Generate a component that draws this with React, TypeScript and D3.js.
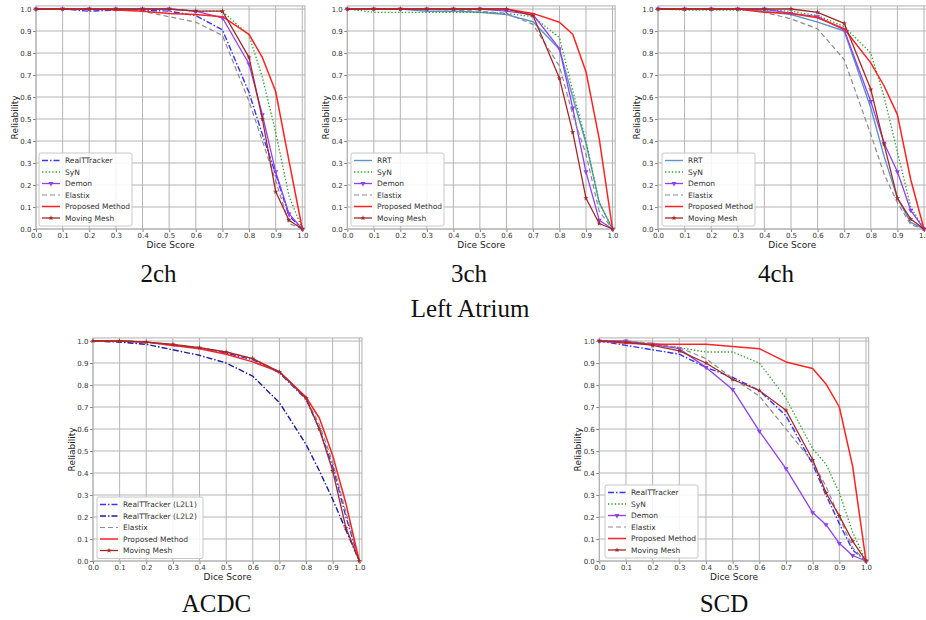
import React, { useEffect, useRef } from 'react';
import * as d3 from 'd3';

// dice thresholds where each curve is sampled
const diceScore = [0, 0.1, 0.2, 0.3, 0.4, 0.5, 0.6, 0.7, 0.8, 0.85, 0.9, 0.95, 1.0];
const axisTicks = [0, 0.1, 0.2, 0.3, 0.4, 0.5, 0.6, 0.7, 0.8, 0.9, 1.0];

// Left Atrium 2ch
const ch2RealTTracker = [1.0, 1.0, 0.99, 0.995, 0.995, 0.99, 0.97, 0.905, 0.62, 0.43, 0.25, 0.06, 0];
const ch2SyN = [1.0, 1.0, 1.0, 1.0, 1.0, 1.0, 0.99, 0.99, 0.88, 0.69, 0.44, 0.15, 0];
const ch2Demon = [1.0, 1.0, 1.0, 1.0, 1.0, 1.0, 0.99, 0.96, 0.75, 0.52, 0.26, 0.07, 0];
const ch2Elastix = [1.0, 1.0, 1.0, 1.0, 0.99, 0.965, 0.94, 0.88, 0.58, 0.4, 0.22, 0.025, 0];
const ch2Proposed = [1.0, 1.0, 1.0, 0.995, 0.99, 0.98, 0.975, 0.965, 0.885, 0.78, 0.625, 0.31, 0];
const ch2MovingMesh = [1.0, 1.0, 1.0, 1.0, 1.0, 1.0, 0.99, 0.99, 0.78, 0.5, 0.17, 0.04, 0];

// Left Atrium 3ch
const ch3RRT = [1.0, 1.0, 1.0, 0.99, 0.99, 0.985, 0.975, 0.942, 0.817, 0.6, 0.39, 0.12, 0];
const ch3SyN = [1.0, 0.985, 0.985, 0.985, 0.985, 0.985, 0.98, 0.965, 0.87, 0.63, 0.4, 0.12, 0];
const ch3Demon = [1.0, 1.0, 1.0, 1.0, 1.0, 1.0, 0.99, 0.975, 0.82, 0.55, 0.26, 0.04, 0];
const ch3Elastix = [1.0, 1.0, 1.0, 1.0, 0.995, 0.99, 0.98, 0.93, 0.74, 0.52, 0.34, 0.08, 0];
const ch3Proposed = [1.0, 1.0, 1.0, 1.0, 1.0, 1.0, 1.0, 0.98, 0.94, 0.885, 0.715, 0.41, 0];
const ch3MovingMesh = [1.0, 1.0, 1.0, 1.0, 1.0, 1.0, 1.0, 0.97, 0.685, 0.44, 0.14, 0.025, 0];

// Left Atrium 4ch
const ch4RRT = [1.0, 1.0, 1.0, 1.0, 0.99, 0.975, 0.94, 0.9, 0.55, 0.33, 0.14, 0.03, 0];
const ch4SyN = [1.0, 0.995, 0.995, 0.995, 0.995, 0.99, 0.97, 0.92, 0.8, 0.6, 0.35, 0.1, 0];
const ch4Demon = [1.0, 1.0, 1.0, 1.0, 1.0, 0.98, 0.965, 0.905, 0.58, 0.39, 0.26, 0.085, 0];
const ch4Elastix = [1.0, 1.0, 1.0, 1.0, 0.985, 0.955, 0.91, 0.77, 0.43, 0.25, 0.12, 0.02, 0];
const ch4Proposed = [1.0, 1.0, 1.0, 1.0, 0.985, 0.98, 0.96, 0.91, 0.755, 0.65, 0.52, 0.225, 0];
const ch4MovingMesh = [1.0, 1.0, 1.0, 1.0, 1.0, 1.0, 0.985, 0.935, 0.635, 0.385, 0.14, 0.045, 0];

// ACDC
const acdcL2L1 = [1.0, 1.0, 0.995, 0.98, 0.97, 0.945, 0.915, 0.855, 0.735, 0.6, 0.43, 0.2, 0];
const acdcL2L2 = [1.0, 0.995, 0.985, 0.96, 0.935, 0.9, 0.84, 0.72, 0.53, 0.41, 0.28, 0.14, 0];
const acdcElastix = [1.0, 1.0, 0.995, 0.985, 0.97, 0.95, 0.92, 0.86, 0.74, 0.62, 0.45, 0.22, 0];
const acdcProposed = [1.0, 1.0, 0.995, 0.98, 0.965, 0.94, 0.905, 0.86, 0.745, 0.65, 0.48, 0.26, 0];
const acdcMovingMesh = [1.0, 1.0, 0.995, 0.985, 0.97, 0.95, 0.92, 0.86, 0.74, 0.6, 0.41, 0.15, 0];

// SCD
const scdRealTTracker = [1.0, 0.98, 0.96, 0.94, 0.88, 0.835, 0.775, 0.66, 0.44, 0.3, 0.17, 0.05, 0];
const scdSyN = [1.0, 1.0, 0.985, 0.97, 0.95, 0.95, 0.9, 0.74, 0.51, 0.44, 0.31, 0.13, 0];
const scdDemon = [1.0, 1.0, 0.985, 0.965, 0.88, 0.78, 0.59, 0.42, 0.22, 0.165, 0.08, 0.025, 0];
const scdElastix = [1.0, 1.0, 0.99, 0.97, 0.92, 0.83, 0.75, 0.6, 0.45, 0.34, 0.2, 0.06, 0];
const scdProposed = [1.0, 0.99, 0.985, 0.985, 0.985, 0.975, 0.965, 0.905, 0.875, 0.805, 0.7, 0.43, 0];
const scdMovingMesh = [1.0, 0.995, 0.98, 0.955, 0.9, 0.825, 0.775, 0.685, 0.46, 0.31, 0.205, 0.09, 0];

type Style = { color: string; dash?: string; width: number; marker?: 'tri' | 'star' };
const styles: Record<string, Style> = {
  rtt: { color: '#3535ff', dash: '6,2,1.5,2', width: 1.4 },
  rttDark: { color: '#1c1ca0', dash: '6,2,1.5,2', width: 1.4 },
  rrt: { color: '#5a95cc', width: 1.4 },
  syn: { color: '#2ca02c', dash: '1.4,2', width: 1.3 },
  demon: { color: '#9040f0', width: 1.3, marker: 'tri' },
  elastix: { color: '#8c8c8c', dash: '5,3', width: 1.2 },
  proposed: { color: '#ff2222', width: 1.5 },
  mesh: { color: '#a32828', width: 1.3, marker: 'star' },
};

type Series = { name: string; style: string; values: number[] };
type Panel = {
  x0: number; x1: number; yTop: number; yBot: number;
  legendX: number; legendY: number; legendW: number;
  series: Series[];
};

const panels: Panel[] = [
  {
    x0: 36, x1: 302.3, yTop: 9, yBot: 229, legendX: 39, legendY: 153, legendW: 93,
    series: [
      { name: 'RealTTracker', style: 'rtt', values: ch2RealTTracker },
      { name: 'SyN', style: 'syn', values: ch2SyN },
      { name: 'Demon', style: 'demon', values: ch2Demon },
      { name: 'Elastix', style: 'elastix', values: ch2Elastix },
      { name: 'Proposed Method', style: 'proposed', values: ch2Proposed },
      { name: 'Moving Mesh', style: 'mesh', values: ch2MovingMesh },
    ],
  },
  {
    x0: 347.3, x1: 612.5, yTop: 9, yBot: 229, legendX: 351, legendY: 153, legendW: 93,
    series: [
      { name: 'RRT', style: 'rrt', values: ch3RRT },
      { name: 'SyN', style: 'syn', values: ch3SyN },
      { name: 'Demon', style: 'demon', values: ch3Demon },
      { name: 'Elastix', style: 'elastix', values: ch3Elastix },
      { name: 'Proposed Method', style: 'proposed', values: ch3Proposed },
      { name: 'Moving Mesh', style: 'mesh', values: ch3MovingMesh },
    ],
  },
  {
    x0: 658, x1: 924, yTop: 9, yBot: 229, legendX: 662, legendY: 153, legendW: 93,
    series: [
      { name: 'RRT', style: 'rrt', values: ch4RRT },
      { name: 'SyN', style: 'syn', values: ch4SyN },
      { name: 'Demon', style: 'demon', values: ch4Demon },
      { name: 'Elastix', style: 'elastix', values: ch4Elastix },
      { name: 'Proposed Method', style: 'proposed', values: ch4Proposed },
      { name: 'Moving Mesh', style: 'mesh', values: ch4MovingMesh },
    ],
  },
  {
    x0: 93, x1: 359.3, yTop: 341, yBot: 561, legendX: 97, legendY: 497, legendW: 106,
    series: [
      { name: 'RealTTracker (L2L1)', style: 'rtt', values: acdcL2L1 },
      { name: 'RealTTracker (L2L2)', style: 'rttDark', values: acdcL2L2 },
      { name: 'Elastix', style: 'elastix', values: acdcElastix },
      { name: 'Proposed Method', style: 'proposed', values: acdcProposed },
      { name: 'Moving Mesh', style: 'mesh', values: acdcMovingMesh },
    ],
  },
  {
    x0: 599.3, x1: 866, yTop: 341, yBot: 561, legendX: 605, legendY: 485, legendW: 93,
    series: [
      { name: 'RealTTracker', style: 'rtt', values: scdRealTTracker },
      { name: 'SyN', style: 'syn', values: scdSyN },
      { name: 'Demon', style: 'demon', values: scdDemon },
      { name: 'Elastix', style: 'elastix', values: scdElastix },
      { name: 'Proposed Method', style: 'proposed', values: scdProposed },
      { name: 'Moving Mesh', style: 'mesh', values: scdMovingMesh },
    ],
  },
];

const captions = [
  { text: '2ch', x: 158.5, y: 282 },
  { text: '3ch', x: 469, y: 282 },
  { text: '4ch', x: 776, y: 282 },
  { text: 'Left Atrium', x: 470, y: 316.5 },
  { text: 'ACDC', x: 216.5, y: 612 },
  { text: 'SCD', x: 724, y: 612 },
];

const sans = 'DejaVu Sans, sans-serif';

function drawMarker(g: any, kind: string | undefined, cx: number, cy: number, color: string) {
  if (kind === 'tri') {
    g.append('path')
      .attr('d', d3.symbol(d3.symbolTriangle, 11)())
      .attr('transform', `translate(${cx},${cy}) rotate(180)`)
      .attr('fill', color);
  } else if (kind === 'star') {
    g.append('path')
      .attr('d', d3.symbol(d3.symbolStar, 9)())
      .attr('transform', `translate(${cx},${cy})`)
      .attr('fill', color);
  }
}

function App() {
  const ref = useRef<SVGSVGElement>(null);

  useEffect(() => {
    const svg = d3.select(ref.current);
    svg.selectAll('*').remove();

    panels.forEach((p) => {
      const x = d3.scaleLinear().domain([0, 1]).range([p.x0, p.x1]);
      const y = d3.scaleLinear().domain([0, 1]).range([p.yBot, p.yTop]);
      const left = x(0), right = x(1.01), top = y(1.014), bottom = y(0);
      const g = svg.append('g');

      g.append('rect').attr('x', left).attr('y', top).attr('width', right - left).attr('height', bottom - top).attr('fill', '#fff');

      // grid
      g.append('g').selectAll('line.vx').data(axisTicks).enter().append('line')
        .attr('x1', (d) => x(d)).attr('x2', (d) => x(d)).attr('y1', top).attr('y2', bottom)
        .attr('stroke', '#b4b4b4').attr('stroke-width', 1);
      g.append('g').selectAll('line.hy').data(axisTicks).enter().append('line')
        .attr('y1', (d) => y(d)).attr('y2', (d) => y(d)).attr('x1', left).attr('x2', right)
        .attr('stroke', '#b4b4b4').attr('stroke-width', 1);

      // axes
      const xAxis = g.append('g').attr('transform', `translate(0,${bottom})`)
        .call(d3.axisBottom(x).tickValues(axisTicks).tickSize(3).tickPadding(1.5).tickFormat(d3.format('.1f')));
      const yAxis = g.append('g').attr('transform', `translate(${left},0)`)
        .call(d3.axisLeft(y).tickValues(axisTicks).tickSize(3).tickPadding(1.5).tickFormat(d3.format('.1f')));
      [xAxis, yAxis].forEach((a) => {
        a.select('.domain').remove();
        a.selectAll('line').attr('stroke', '#666').attr('stroke-width', 0.8);
        a.selectAll('text').attr('fill', '#333').style('font-size', '7px').style('font-family', sans);
      });

      g.append('rect').attr('x', left).attr('y', top).attr('width', right - left).attr('height', bottom - top)
        .attr('fill', 'none').attr('stroke', '#b0b0b0').attr('stroke-width', 1);

      g.append('text').attr('x', (left + right) / 2).attr('y', bottom + 18.5).attr('text-anchor', 'middle')
        .style('font-size', '9px').style('font-family', sans).attr('fill', '#222').text('Dice Score');
      g.append('text').attr('transform', `translate(${left - 18.5},${(top + bottom) / 2}) rotate(-90)`)
        .attr('text-anchor', 'middle').style('font-size', '9px').style('font-family', sans).attr('fill', '#222')
        .text('Reliability');

      // series
      const line = d3.line<number>().x((_, i) => x(diceScore[i])).y((d) => y(d));
      p.series.forEach((s) => {
        const st = styles[s.style];
        g.append('path').attr('d', line(s.values)).attr('fill', 'none')
          .attr('stroke', st.color).attr('stroke-width', st.width)
          .attr('stroke-dasharray', st.dash || null).attr('stroke-linejoin', 'round');
        if (st.marker) {
          s.values.forEach((v, i) => drawMarker(g, st.marker, x(diceScore[i]), y(v), st.color));
        }
      });

      // legend
      const rowH = 11.5;
      const lg = g.append('g');
      lg.append('rect').attr('x', p.legendX).attr('y', p.legendY).attr('width', p.legendW)
        .attr('height', p.series.length * rowH + 4).attr('rx', 2)
        .attr('fill', 'rgba(255,255,255,0.85)').attr('stroke', '#c8c8c8').attr('stroke-width', 1);
      p.series.forEach((s, i) => {
        const st = styles[s.style];
        const cy = p.legendY + 7.5 + i * rowH;
        lg.append('line').attr('x1', p.legendX + 3).attr('x2', p.legendX + 21).attr('y1', cy).attr('y2', cy)
          .attr('stroke', st.color).attr('stroke-width', st.width).attr('stroke-dasharray', st.dash || null);
        if (st.marker) drawMarker(lg, st.marker, p.legendX + 12, cy, st.color);
        lg.append('text').attr('x', p.legendX + 26).attr('y', cy + 2.7)
          .style('font-size', '7.5px').style('font-family', sans).attr('fill', '#333').text(s.name);
      });
    });

    svg.selectAll('text.caption').data(captions).enter().append('text').attr('class', 'caption')
      .attr('x', (d) => d.x).attr('y', (d) => d.y).attr('text-anchor', 'middle')
      .style('font-family', 'Liberation Serif, serif').style('font-size', '25px').attr('fill', '#111')
      .text((d) => d.text);
  }, []);

  return (
    <svg ref={ref} width={926} height={620}
      style={{ position: 'absolute', left: 0, top: 0, background: '#fff' }} />
  );
}

export default App;
